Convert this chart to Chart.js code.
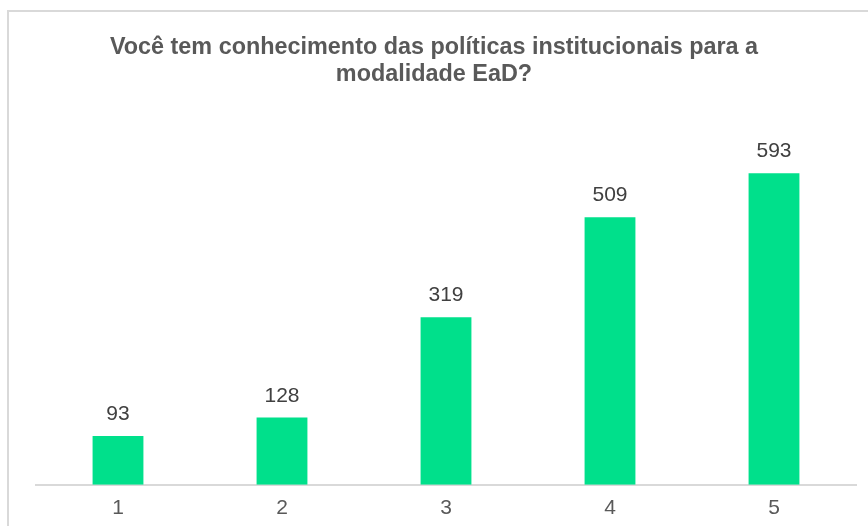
<!DOCTYPE html>
<html>
<head>
<meta charset="utf-8">
<script src="https://cdn.jsdelivr.net/npm/chart.js@4/dist/chart.umd.min.js"></script>
<style>
  html, body { margin: 0; padding: 0; background: #fff; overflow: hidden; }
  #moldura {
    position: absolute; left: 7px; top: 10px; width: 900px; height: 600px;
    border: 2px solid #d9d9d9; box-sizing: border-box;
  }
  #caixa { position: absolute; left: 0; top: 0; width: 868px; height: 526px; }
</style>
</head>
<body>
<div id="moldura"></div>
<div id="caixa"><canvas id="myChart"></canvas></div>
<script>
// Categorias e valores
const categorias = ["1", "2", "3", "4", "5"];
const respostas = [93, 128, 319, 509, 593];
const tituloLinhas = ["Você tem conhecimento das políticas institucionais para a", "modalidade EaD?"];

const fonte = "'Liberation Sans', Arial, sans-serif";

// Titulo centrado na largura toda do canvas (o titulo padrao centra no plot)
const tituloCentrado = {
  id: "tituloCentrado",
  afterDraw(chart) {
    const ctx = chart.ctx;
    ctx.save();
    ctx.font = "bold 23.4px " + fonte;
    ctx.fillStyle = "#595959";
    ctx.textAlign = "center";
    ctx.textBaseline = "alphabetic";
    tituloLinhas.forEach((linha, i) => {
      ctx.fillText(linha, chart.width / 2, 54 + i * 27);
    });
    ctx.restore();
  }
};

// Plugin simples para escrever o valor em cima de cada barra
const rotulosBarras = {
  id: "rotulosBarras",
  afterDatasetsDraw(chart) {
    const ctx = chart.ctx;
    const meta = chart.getDatasetMeta(0);
    ctx.save();
    ctx.font = "21px " + fonte;
    ctx.fillStyle = "#404040";
    ctx.textAlign = "center";
    ctx.textBaseline = "alphabetic";
    meta.data.forEach((bar, i) => {
      ctx.fillText(respostas[i], bar.x, bar.y - 16);
    });
    ctx.restore();
  }
};

const config = {
  type: "bar",
  data: {
    labels: categorias,
    datasets: [{
      data: respostas,
      backgroundColor: "#00e08b",
      borderWidth: 0,
      barPercentage: 0.31,
      categoryPercentage: 1
    }]
  },
  options: {
    responsive: false,
    animation: false,
    layout: { padding: { left: 36, right: 12, top: 117, bottom: -6 } },
    plugins: {
      legend: { display: false },
      tooltip: { enabled: false },
      title: { display: false }
    },
    scales: {
      x: {
        grid: { display: false, drawTicks: false },
        border: { display: true, color: "#d9d9d9", width: 2 },
        ticks: {
          color: "#595959",
          padding: 11,
          font: { family: fonte, size: 21 }
        }
      },
      y: {
        display: false,
        min: 0,
        max: 700
      }
    }
  },
  plugins: [rotulosBarras, tituloCentrado]
};

const myChart = document.getElementById("myChart");
myChart.width = 868;
myChart.height = 526;
new Chart(myChart, config);
</script>
</body>
</html>
